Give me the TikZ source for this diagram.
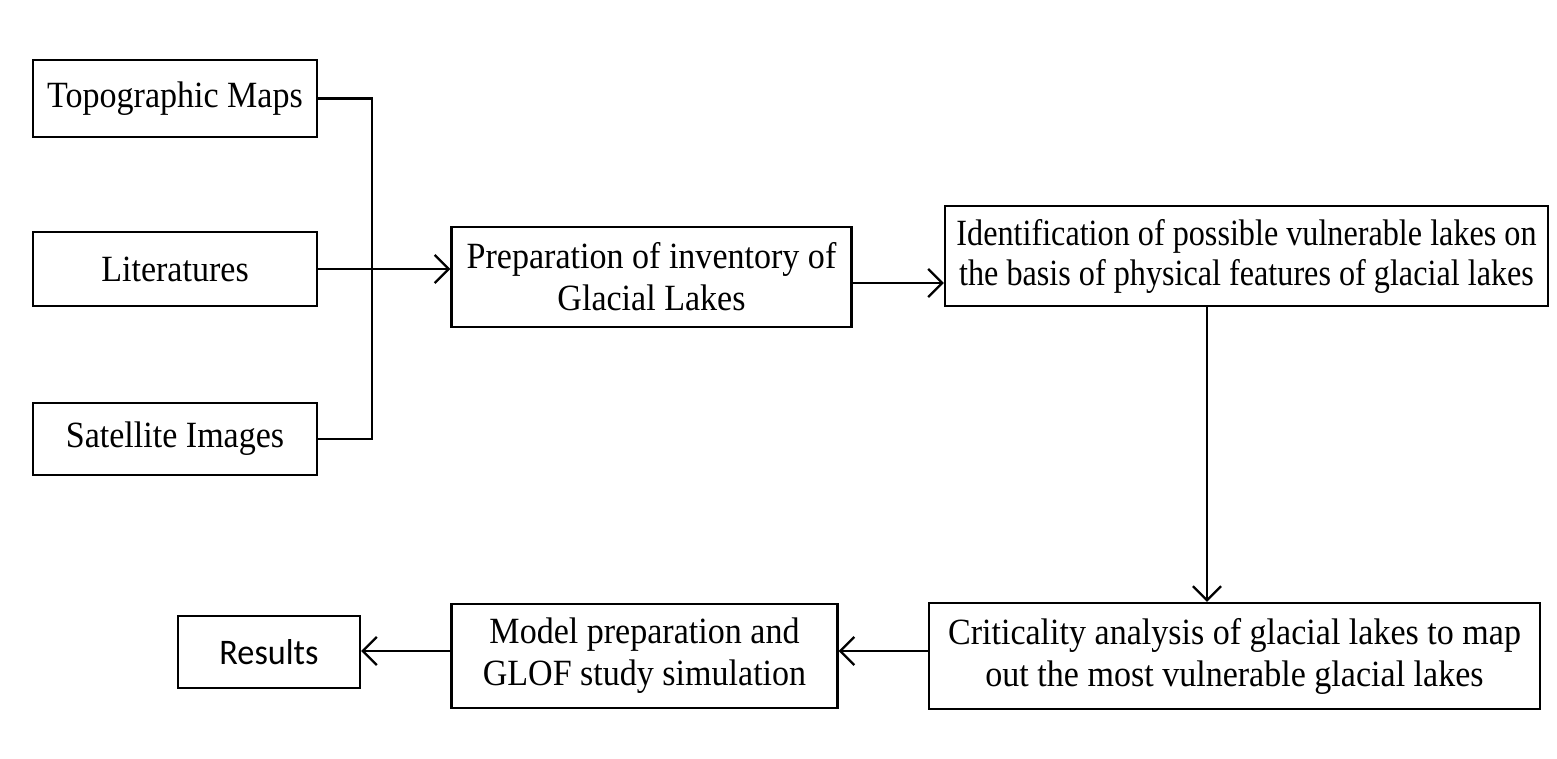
\documentclass[tikz,border=0pt]{standalone}
\usepackage{fontspec}
\setmainfont{Liberation Serif}[FakeStretch=0.92]
\newfontfamily\narrowfont{Liberation Serif}[FakeStretch=0.87]
\newfontfamily\calfont{Carlito}[FakeStretch=0.95]
\usetikzlibrary{arrows.meta}
\begin{document}
\begin{tikzpicture}[x=1pt,y=1pt,
  box/.style={draw, line width=2.3pt, minimum width=#1, inner sep=0pt, align=center,
    font=\fontsize{37}{42}\selectfont},
  conn/.style={line width=2.3pt},
  arr/.style={line width=2.3pt, -{Straight Barb[length=14pt,width=28pt,line width=2.3pt]}}]
\useasboundingbox[fill=white] (0,0) rectangle (1557,759);
\node[box=284pt, minimum height=77pt] (topo) at (175,660.5) {Topographic Maps};
\node[box=284pt, minimum height=74pt] (lit) at (175,490) {Literatures};
\node[box=284pt, minimum height=72pt] (sat) at (175,320) {Satellite Images};
\node[box=400pt, minimum height=100pt] (prep) at (651.5,482) {Preparation of inventory of\\Glacial Lakes};
\node[box=603pt, minimum height=100pt, font=\narrowfont\fontsize{37}{40}\selectfont] (ident) at (1246.5,503) {Identification of possible vulnerable lakes on\\the basis of physical features of glacial lakes};
\node[box=611pt, minimum height=106pt] (crit) at (1234.5,103) {Criticality analysis of glacial lakes to map\\out the most vulnerable glacial lakes};
\node[box=386pt, minimum height=104pt] (model) at (644.5,103) {Model preparation and\\GLOF study simulation};
\node[box=182pt, minimum height=72pt, font=\calfont\fontsize{36}{40}\selectfont] (res) at (269,107) {Results};
\coordinate (bus) at (372,490);
\draw[conn] (topo.east) -- (topo.east -| bus) -- (sat.east -| bus) -- (sat.east);
\draw[arr] (lit.east) -- (lit.east -| prep.west);
\draw[arr] ([yshift=-6pt]prep.east) -- ([yshift=-6pt]prep.east -| ident.west);
\draw[arr] (1207,0 |- ident.south) -- (1207,0 |- crit.north);
\draw[arr] ([yshift=5pt]crit.west) -- ([yshift=5pt]crit.west -| model.east);
\draw[arr] ([yshift=5pt]model.west) -- ([yshift=5pt]model.west -| res.east);
\end{tikzpicture}
\end{document}
